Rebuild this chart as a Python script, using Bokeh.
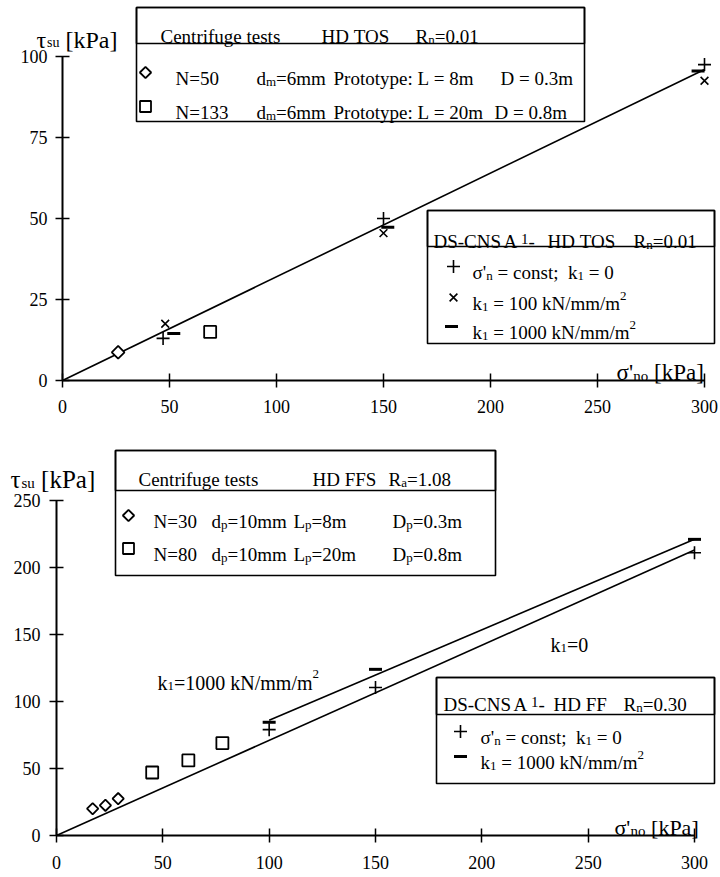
from bokeh.plotting import figure
from bokeh.layouts import column
from bokeh.models import Label, BoxAnnotation, FixedTicker, Range1d
from bokeh.embed import file_html
from bokeh.resources import INLINE
import math

# ---------------- data ----------------
x_ticks = [0, 50, 100, 150, 200, 250, 300]
y_ticks_top = [0, 25, 50, 75, 100]
y_ticks_bot = [0, 50, 100, 150, 200, 250]

# top chart: HD TOS
top_fit_x = [0, 300]
top_fit_y = [0, 96]
top_n50_x = [26]
top_n50_y = [8.7]
top_n133_x = [69]
top_n133_y = [15]
top_plus_x = [47, 150, 300]
top_plus_y = [13, 50, 97.5]
top_x100_x = [48, 150, 300]
top_x100_y = [17.5, 45.5, 92.5]
top_dash_x = [52, 152, 297]
top_dash_y = [14.5, 47.3, 95.5]

# bottom chart: HD FFS
bot_k0_x = [0, 300]
bot_k0_y = [0, 213]
bot_k1000_x = [100, 300]
bot_k1000_y = [86, 221]
bot_n30_x = [17, 23, 29]
bot_n30_y = [20, 22.5, 27.5]
bot_n80_x = [45, 62, 78]
bot_n80_y = [47, 56, 69]
bot_plus_x = [100, 150, 300]
bot_plus_y = [79, 110.5, 211]
bot_dash_x = [100, 150, 300]
bot_dash_y = [84.5, 124, 221]

SERIF = "Liberation Serif"
W = 720
NB = "\u00a0"

# Times-like advance widths (1/1000 em)
TW = {' ': 250, '!': 333, "'": 180, '(': 333, ')': 333, '+': 564, ',': 250, '-': 333, '.': 250,
      '/': 278, ':': 278, ';': 278, '=': 564, '[': 333, ']': 333,
      'A': 722, 'B': 667, 'C': 667, 'D': 722, 'E': 611, 'F': 556, 'G': 722, 'H': 722, 'I': 333,
      'K': 722, 'L': 611, 'M': 889, 'N': 722, 'O': 722, 'P': 556, 'R': 667, 'S': 556, 'T': 611,
      'a': 444, 'b': 500, 'c': 444, 'd': 500, 'e': 444, 'f': 333, 'g': 500, 'h': 500, 'i': 278,
      'k': 500, 'l': 278, 'm': 778, 'n': 500, 'o': 500, 'p': 500, 'r': 333, 's': 389, 't': 278,
      'u': 500, 'v': 500, 'y': 500, 'σ': 550, 'τ': 440}


def tw(s, size):
    return sum(TW.get(c, 500) for c in s) * size / 1000.0


def make_fig(h, x0px, x300px, y0px, ytop_px, ytop_val, yticks, lab_x_standoff, lab_y_standoff):
    sx = (x300px - x0px) / 300.0
    sy = (y0px - ytop_px) / float(ytop_val)
    p = figure(width=W, height=h,
               x_range=Range1d(-x0px / sx, (W - x0px) / sx),
               y_range=Range1d(-(h - y0px) / sy, y0px / sy),
               output_backend="svg", toolbar_location=None, min_border=0,
               outline_line_color=None, background_fill_color="white",
               border_fill_color="white")
    p.grid.visible = False
    p.xaxis.fixed_location = 0
    p.yaxis.fixed_location = 0
    p.xaxis.bounds = (0, 300)
    p.yaxis.bounds = (0, ytop_val)
    p.xaxis.ticker = FixedTicker(ticks=x_ticks)
    p.yaxis.ticker = FixedTicker(ticks=yticks)
    for ax in (p.xaxis[0], p.yaxis[0]):
        ax.minor_tick_line_color = None
        ax.major_tick_in = 7
        ax.major_tick_out = 7
        ax.axis_line_width = 2
        ax.axis_line_color = "black"
        ax.major_tick_line_width = 1.5
        ax.major_tick_line_color = "black"
        ax.major_label_text_font = SERIF
        ax.major_label_text_font_size = "18px"
        ax.major_label_text_color = "black"
    p.xaxis.major_label_standoff = lab_x_standoff
    p.yaxis.major_label_standoff = lab_y_standoff

    def D(px, py):
        return ((px - x0px) / sx, (y0px - py) / sy)
    return p, D


def runs(p, D, px, py, segs):
    x = px
    for s, size, dy in segs:
        X, Y = D(x, py + dy)
        p.add_layout(Label(x=X, y=Y, text=s.replace(" ", NB), text_font=SERIF,
                           text_font_size=f"{size}px", text_baseline="alphabetic",
                           text_align="left", text_color="black"))
        x += tw(s, size)


def box(p, D, l, t, r, b):
    x1, y1 = D(l, t)
    x2, y2 = D(r, b)
    p.add_layout(BoxAnnotation(left=x1, right=x2, top=y1, bottom=y2, fill_color=None,
                               fill_alpha=0, line_color="black", line_width=1.6, line_alpha=1))


def key(p, D, px, py, marker, size, lw=1.6, angle=0.0):
    X, Y = D(px, py)
    p.scatter([X], [Y], marker=marker, size=size, fill_color=None, line_color="black",
              line_width=lw, angle=angle)


FS = 19
SUB = 13

# ================= TOP =================
H1 = 440
p1, D1 = make_fig(H1, 62, 704, 380, 56, 100, y_ticks_top, 12, 8)

p1.line(top_fit_x, top_fit_y, line_color="black", line_width=1.6)
p1.scatter(top_n50_x, top_n50_y, marker="square", angle=math.pi / 4, size=9,
           fill_color="white", line_color="black", line_width=1.8)
p1.scatter(top_n133_x, top_n133_y, marker="square", size=12,
           fill_color="white", line_color="black", line_width=1.8)
p1.scatter(top_plus_x, top_plus_y, marker="cross", size=13, line_color="black", line_width=1.6)
p1.scatter(top_x100_x, top_x100_y, marker="x", size=11, line_color="black", line_width=1.6)
p1.scatter(top_dash_x, top_dash_y, marker="dash", size=13, line_color="black", line_width=3)

# axis titles
runs(p1, D1, 36, 39, [("τ", 24, 0), ("su", 14, 3), (" [kPa]", 24, 0)])
runs(p1, D1, 616, 372, [("σ'", 23, 0), ("no", 15, 3), (" [kPa]", 23, 0)])

# legend box: centrifuge tests
box(p1, D1, 136, 7, 584, 121)
box(p1, D1, 136, 7, 584, 43)
runs(p1, D1, 160, 36, [("Centrifuge tests", FS, 0)])
runs(p1, D1, 321, 36, [("HD TOS", FS, 0)])
runs(p1, D1, 415, 36, [("R", FS, 0), ("n", SUB, 3), ("=0.01", FS, 0)])
key(p1, D1, 145, 72, "square", 8, 1.8, math.pi / 4)
runs(p1, D1, 175, 78, [("N=50", FS, 0)])
runs(p1, D1, 256, 78, [("d", FS, 0), ("m", SUB, 3), ("=6mm", FS, 0)])
runs(p1, D1, 333, 78, [("Prototype: L = 8m", FS, 0)])
runs(p1, D1, 500, 78, [("D = 0.3m", FS, 0)])
key(p1, D1, 145, 106, "square", 11, 1.8)
runs(p1, D1, 175, 112, [("N=133", FS, 0)])
runs(p1, D1, 256, 112, [("d", FS, 0), ("m", SUB, 3), ("=6mm", FS, 0)])
runs(p1, D1, 333, 112, [("Prototype: L = 20m", FS, 0)])
runs(p1, D1, 494, 112, [("D = 0.8m", FS, 0)])

# legend box: DS-CNS
box(p1, D1, 427, 210, 714, 343)
box(p1, D1, 427, 210, 714, 246)
runs(p1, D1, 433, 241, [("DS-CNS", FS, 0)])
runs(p1, D1, 503, 241, [("A", FS, 0), (" 1", 15, -3), ("-", FS, 0)])
runs(p1, D1, 547, 241, [("HD TOS", FS, 0)])
runs(p1, D1, 633, 241, [("R", FS, 0), ("n", SUB, 3), ("=0.01", FS, 0)])
key(p1, D1, 453, 266, "cross", 13, 1.6)
runs(p1, D1, 472, 272, [("σ'", FS, 0), ("n", SUB, 3), (" = const;  k", FS, 0), ("1", SUB, 3), (" = 0", FS, 0)])
key(p1, D1, 453, 297, "x", 11, 1.6)
runs(p1, D1, 472, 303, [("k", FS, 0), ("1", SUB, 3), (" = 100 kN/mm/m", FS, 0), ("2", SUB, -8)])
key(p1, D1, 451, 326, "dash", 13, 3)
runs(p1, D1, 472, 332, [("k", FS, 0), ("1", SUB, 3), (" = 1000 kN/mm/m", FS, 0), ("2", SUB, -8)])

# ================= BOTTOM =================
H2 = 437
OFF = 440
p2, D2r = make_fig(H2, 56, 694, 835 - OFF, 500 - OFF, 250, y_ticks_bot, 13, 9)


def D2(px, py):
    return D2r(px, py - OFF)


p2.line(bot_k0_x, bot_k0_y, line_color="black", line_width=1.6)
p2.line(bot_k1000_x, bot_k1000_y, line_color="black", line_width=1.6)
p2.scatter(bot_n30_x, bot_n30_y, marker="square", angle=math.pi / 4, size=8,
           fill_color="white", line_color="black", line_width=1.8)
p2.scatter(bot_n80_x, bot_n80_y, marker="square", size=12,
           fill_color="white", line_color="black", line_width=1.8)
p2.scatter(bot_plus_x, bot_plus_y, marker="cross", size=13, line_color="black", line_width=1.6)
p2.scatter(bot_dash_x, bot_dash_y, marker="dash", size=13, line_color="black", line_width=3)

runs(p2, D2, 10, 479, [("τ", 25, 0), ("su", 15, 3), (" [kPa]", 25, 0)])
runs(p2, D2, 614, 827, [("σ'", 22, 0), ("no", 15, 3), (" [kPa]", 22, 0)])

runs(p2, D2, 157, 682, [("k", 20, 0), ("1", SUB, 3), ("=1000 kN/mm/m", 20, 0), ("2", SUB, -9)])
runs(p2, D2, 550, 644, [("k", 20, 0), ("1", SUB, 3), ("=0", 20, 0)])

box(p2, D2, 115, 450, 495, 575)
box(p2, D2, 115, 450, 495, 490)
runs(p2, D2, 138, 479, [("Centrifuge tests", FS, 0)])
runs(p2, D2, 312, 479, [("HD FFS", FS, 0)])
runs(p2, D2, 388, 479, [("R", FS, 0), ("a", SUB, 3), ("=1.08", FS, 0)])
key(p2, D2, 128, 515, "square", 8, 1.8, math.pi / 4)
runs(p2, D2, 153, 521, [("N=30", FS, 0)])
runs(p2, D2, 211, 521, [("d", FS, 0), ("p", SUB, 3), ("=10mm", FS, 0)])
runs(p2, D2, 293, 521, [("L", FS, 0), ("p", SUB, 3), ("=8m", FS, 0)])
runs(p2, D2, 392, 521, [("D", FS, 0), ("p", SUB, 3), ("=0.3m", FS, 0)])
key(p2, D2, 128, 548, "square", 11, 1.8)
runs(p2, D2, 153, 554, [("N=80", FS, 0)])
runs(p2, D2, 211, 554, [("d", FS, 0), ("p", SUB, 3), ("=10mm", FS, 0)])
runs(p2, D2, 293, 554, [("L", FS, 0), ("p", SUB, 3), ("=20m", FS, 0)])
runs(p2, D2, 392, 554, [("D", FS, 0), ("p", SUB, 3), ("=0.8m", FS, 0)])

box(p2, D2, 436, 677, 714, 783)
box(p2, D2, 436, 677, 714, 714)
runs(p2, D2, 443, 704, [("DS-CNS", FS, 0)])
runs(p2, D2, 513, 704, [("A", FS, 0), (" 1", 15, -3), ("-", FS, 0)])
runs(p2, D2, 553, 704, [("HD FF", FS, 0)])
runs(p2, D2, 623, 704, [("R", FS, 0), ("n", SUB, 3), ("=0.30", FS, 0)])
key(p2, D2, 460, 731, "cross", 13, 1.6)
runs(p2, D2, 480, 737, [("σ'", FS, 0), ("n", SUB, 3), (" = const;  k", FS, 0), ("1", SUB, 3), (" = 0", FS, 0)])
key(p2, D2, 460, 756, "dash", 13, 3)
runs(p2, D2, 480, 762, [("k", FS, 0), ("1", SUB, 3), (" = 1000 kN/mm/m", FS, 0), ("2", SUB, -8)])

layout = column(p1, p2, spacing=0)
open("out.html", "w").write(file_html(layout, INLINE))
